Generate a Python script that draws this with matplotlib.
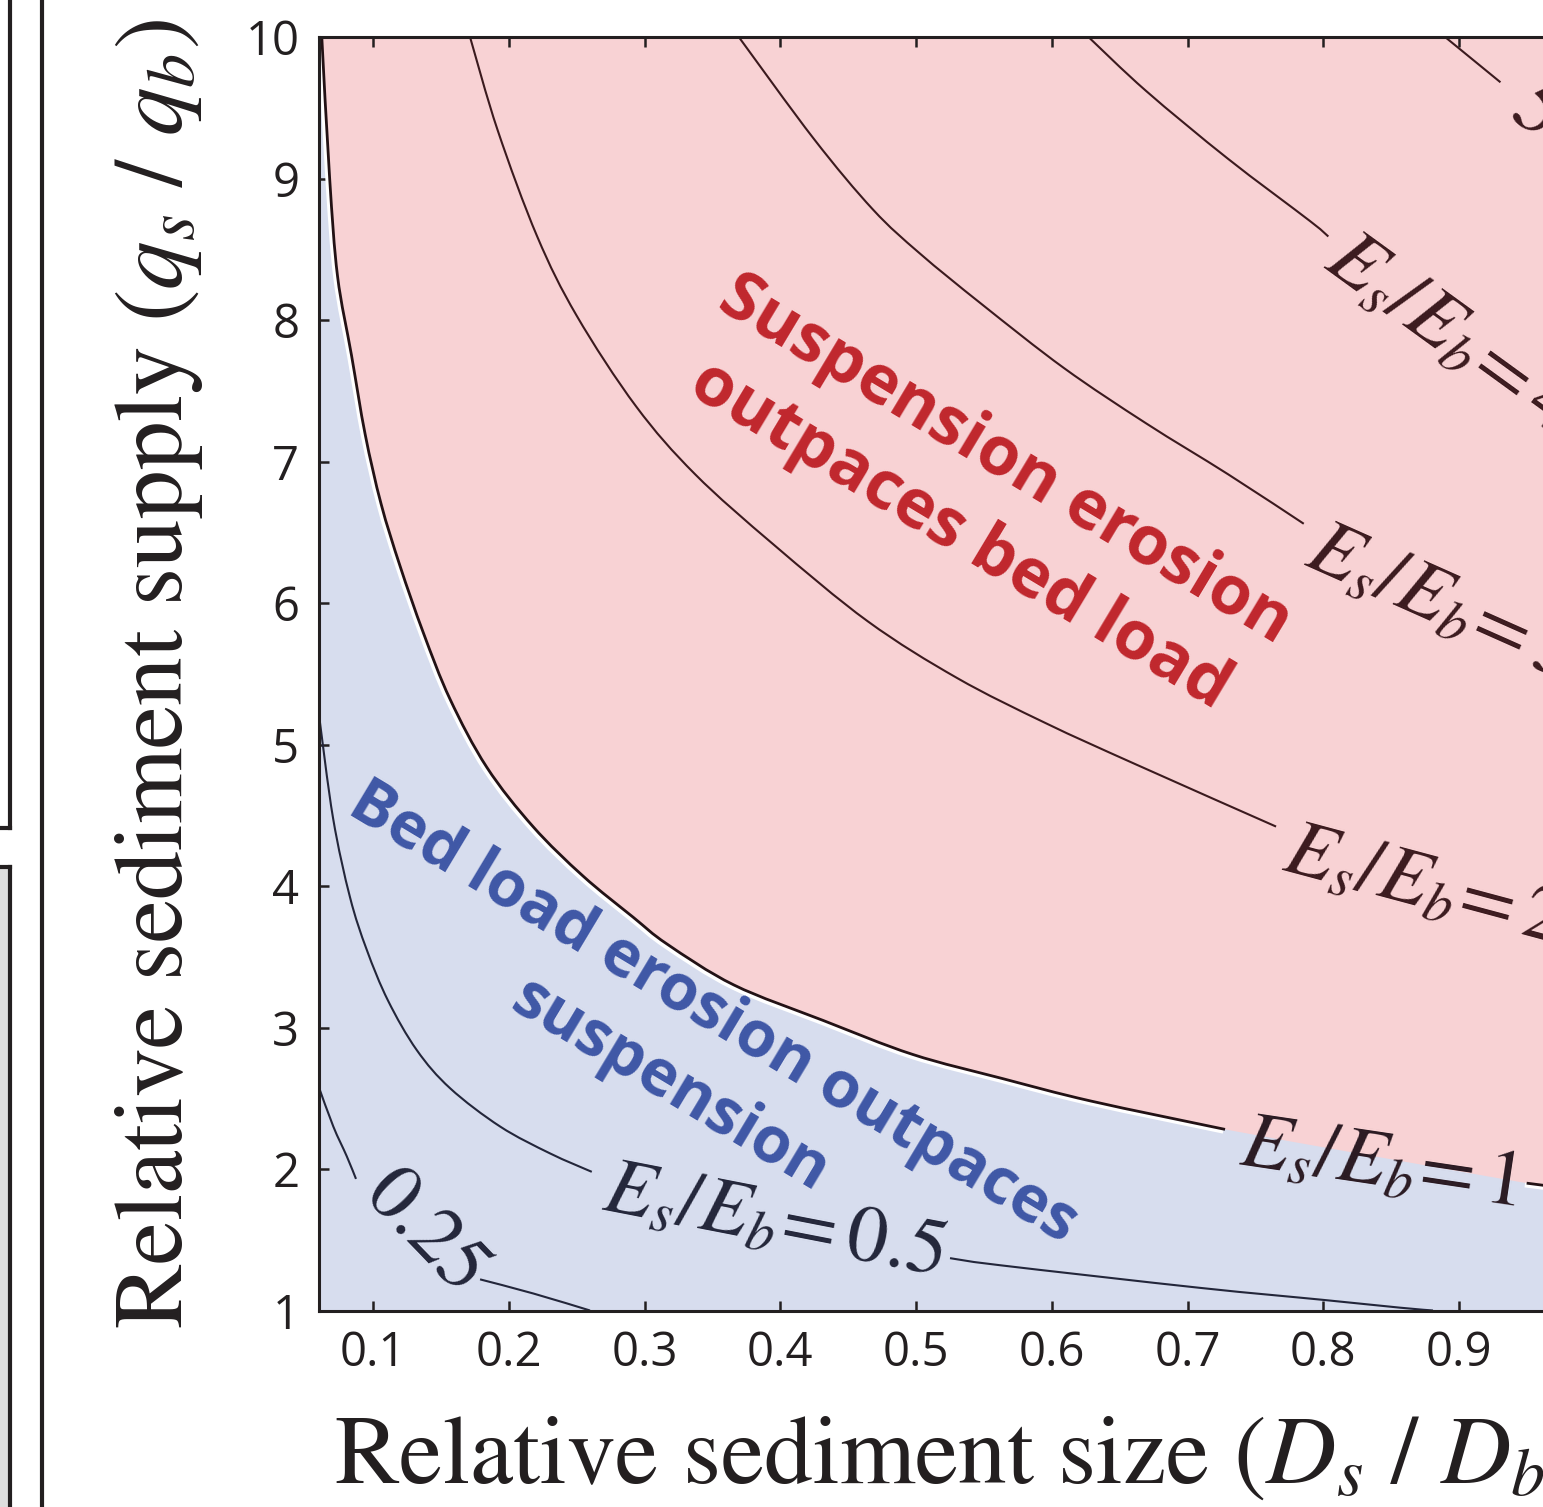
import numpy as np
import matplotlib
matplotlib.use("Agg")
import matplotlib.pyplot as plt
import matplotlib.patheffects as pe
from matplotlib.lines import Line2D
from matplotlib.patches import Rectangle, PathPatch
from matplotlib.path import Path

plt.rcParams["font.family"] = ["Open Sans", "DejaVu Sans"]
plt.rcParams["mathtext.fontset"] = "stix"

# ---- contours of E_s/E_b : relative size D_s/D_b (x) vs relative supply q_s/q_b (y)
# nan = break in the line where the contour label sits
R025_D = [0.060, 0.0707, 0.0806, 0.0874, np.nan, 0.1788, 0.2181, 0.2598]
R025_Q = [2.58, 2.30, 2.09, 1.93, np.nan, 1.22, 1.12, 1.00]

R05_D = [0.060, 0.0705, 0.0830, 0.0953, 0.1110, 0.1322, 0.1568, 0.1936, 0.2304,
         0.2611, np.nan, 0.5250, 0.5618, 0.7092, 0.8000, 0.8565, 0.8808]
R05_Q = [5.22, 4.48, 3.92, 3.55, 3.19, 2.84, 2.57, 2.30, 2.11,
         1.98, np.nan, 1.37, 1.32, 1.16, 1.075, 1.02, 1.00]

R1_D = [0.0622, 0.0680, 0.0738, 0.0841, 0.0942, 0.1059, 0.1199, 0.1370, 0.1567,
        0.1837, 0.2178, 0.2547, 0.2915, 0.3165, 0.3659, 0.4315, 0.4974, 0.5633,
        0.6289, 0.7276, np.nan, 0.9498, 0.9700]
R1_Q = [10.0, 9.00, 8.31, 7.75, 7.19, 6.70, 6.26, 5.79, 5.32,
        4.84, 4.42, 4.07, 3.78, 3.59, 3.30, 3.05, 2.81, 2.64,
        2.48, 2.28, np.nan, 1.90, 1.875]

R2_D = [0.1714, 0.1918, 0.2209, 0.2500, 0.2937, 0.3372, 0.3954, 0.4645, 0.5302,
        0.5957, 0.6618, 0.7652]
R2_Q = [10.0, 9.34, 8.59, 8.03, 7.39, 6.91, 6.41, 5.87, 5.47, 5.15, 4.86, 4.42]

R3_D = [0.3694, 0.4247, 0.4683, 0.5028, 0.5486, 0.6090, 0.6694, 0.7298, 0.7856]
R3_Q = [10.0, 9.28, 8.78, 8.47, 8.11, 7.66, 7.27, 6.91, 6.56]

R4_D = [0.6270, 0.6693, 0.7297, 0.7901, 0.8037]
R4_Q = [10.0, 9.62, 9.14, 8.70, 8.59]

R5_D = [0.8897, 0.9305]
R5_Q = [10.0, 9.68]

# contour labels: text, anchor (baseline-left), angle
EQ = r"\!="
LAB_TXT = [r"$E_s/E_b" + EQ + r"\mathit{0.5}$", r"$E_s/E_b" + EQ + r"\mathit{1}$",
           r"$E_s/E_b" + EQ + r"\mathit{2}$", r"$E_s/E_b" + EQ + r"\mathit{3}$",
           r"$E_s/E_b" + EQ + r"\mathit{4}$", r"$\mathit{5}$"]
LAB_D = [0.2672, 0.7372, 0.7682, 0.7848, 0.7988, 0.9361]
LAB_Q = [1.710, 2.028, 4.113, 6.269, 8.371, 9.449]
LAB_ROT = [-11, -8.5, -15, -24, -36, -40]

X_TICKS = [0.1, 0.2, 0.3, 0.4, 0.5, 0.6, 0.7, 0.8, 0.9]
Y_TICKS = [1, 2, 3, 4, 5, 6, 7, 8, 9, 10]

PINK = "#F8D2D4"
BLUE_BG = "#D7DDEE"
RED = "#C0272D"
BLUE = "#3F57A6"
INK = "#231F20"
BROWN = "#3B1A1E"
NAVY = "#23263A"


def smooth_paths(d, q):
    """Split at nan and pass a smooth cubic curve through each run of points."""
    pts = np.column_stack([np.asarray(d, float), np.asarray(q, float)])
    out = []
    for seg in np.split(pts, np.flatnonzero(np.isnan(pts[:, 0]))):
        seg = seg[np.isfinite(seg[:, 0])]
        if len(seg) < 2:
            continue
        verts, codes = [seg[0]], [Path.MOVETO]
        n = len(seg)
        for i in range(n - 1):
            p0, p1 = seg[max(i - 1, 0)], seg[i]
            p2, p3 = seg[i + 1], seg[min(i + 2, n - 1)]
            verts += [p1 + (p2 - p0) / 6, p2 - (p3 - p1) / 6, p2]
            codes += [Path.CURVE4] * 3
        out.append(Path(verts, codes))
    return out


def draw_curve(ax, d, q, **kw):
    for p in smooth_paths(d, q):
        ax.add_patch(PathPatch(p, fill=False, capstyle="butt", **kw))


fig = plt.figure(figsize=(15.43, 15.07), dpi=100)
ax = fig.add_axes([318.8 / 1543, 1 - 1310.5 / 1507, 1276 / 1543, 1273.5 / 1507])
ax.set_xlim(0.06, 1.0)
ax.set_ylim(1, 10)
ax.set_facecolor(BLUE_BG)

# pink region: suspension dominated, above E_s/E_b = 1
d1 = np.array(R1_D)
q1 = np.array(R1_Q)
ok = np.isfinite(d1)
edge = smooth_paths(d1[ok], q1[ok])[0]
verts = np.vstack([edge.vertices, [[d1[ok][-1], 10], [d1[ok][0], 10], [d1[ok][0], 10]]])
codes = list(edge.codes) + [Path.LINETO, Path.LINETO, Path.CLOSEPOLY]
ax.add_patch(PathPatch(Path(verts, codes), color=PINK, lw=0, zorder=0.5))

draw_curve(ax, R025_D, R025_Q, edgecolor=NAVY, lw=1.5, zorder=2)
draw_curve(ax, R05_D, R05_Q, edgecolor=NAVY, lw=1.5, zorder=2)
draw_curve(ax, R1_D, R1_Q, edgecolor="#231215", lw=2.0, zorder=2,
           path_effects=[pe.Stroke(linewidth=3.5, foreground="white", offset=(-1.3, -1.3)),
                         pe.Normal()])
for d, q in [(R2_D, R2_Q), (R3_D, R3_Q), (R4_D, R4_Q), (R5_D, R5_Q)]:
    draw_curve(ax, d, q, edgecolor=BROWN, lw=1.5, zorder=2)

ax.text(0.1388, 1.569, r"$\mathit{0.25}$", rotation=-46, rotation_mode="anchor",
        ha="center", va="center", fontsize=58, color=NAVY, zorder=3)
for i, t in enumerate(LAB_TXT):
    c = NAVY if i == 0 else ("#2A1A22" if i == 1 else BROWN)
    ax.text(LAB_D[i], LAB_Q[i], t, rotation=LAB_ROT[i], rotation_mode="anchor",
            ha="left", va="baseline", fontsize=58, color=c, zorder=3)

# regime labels
ax.text(0.5487, 6.74, "Suspension erosion\noutpaces bed load", rotation=-31,
        rotation_mode="anchor", ha="center", va="center", multialignment="center",
        fontsize=49, fontweight="bold", color=RED, linespacing=1.38, zorder=3)
ax.text(0.334, 2.84, "Bed load erosion outpaces\nsuspension", rotation=-31,
        rotation_mode="anchor", ha="center", va="center", multialignment="center",
        fontsize=46, fontweight="bold", color=BLUE, linespacing=1.4, zorder=3)

ax.set_xticks(X_TICKS)
ax.set_xticklabels([f"{v:.1f}" for v in X_TICKS])
ax.set_yticks(Y_TICKS)
ax.tick_params(direction="in", length=7, width=1.8, color=INK, top=True,
               labelsize=34, labelcolor=INK, pad=14)
for s in ax.spines.values():
    s.set_linewidth(2.2)
    s.set_color(INK)
    s.set_zorder(4)

ax.set_xlabel(r"Relative sediment size $(D_s\ /\ D_b)$", family="STIXGeneral",
              fontsize=70, color=INK)
ax.xaxis.set_label_coords(0.5, -0.083)
ax.set_ylabel(r"Relative sediment supply $(q_s\ /\ q_b)$", family="STIXGeneral",
              fontsize=70, color=INK)
ax.yaxis.set_label_coords(-0.089, 0.5)

# edges of the neighbouring panels on the left
fx = 9.5 / 1543
fig.add_artist(Rectangle((0, 0), fx, 1 - 867 / 1507, transform=fig.transFigure,
                         color="#DEDEDE", lw=0))
for xs, ys in [([fx, fx], [1, 1 - 828 / 1507]), ([0, fx], [1 - 828 / 1507] * 2),
               ([0, fx], [1 - 867 / 1507] * 2), ([fx, fx], [1 - 867 / 1507, 0]),
               ([42 / 1543] * 2, [0, 1])]:
    fig.add_artist(Line2D(xs, ys, transform=fig.transFigure, color=INK, lw=3))

fig.savefig("out.png", dpi=100)
